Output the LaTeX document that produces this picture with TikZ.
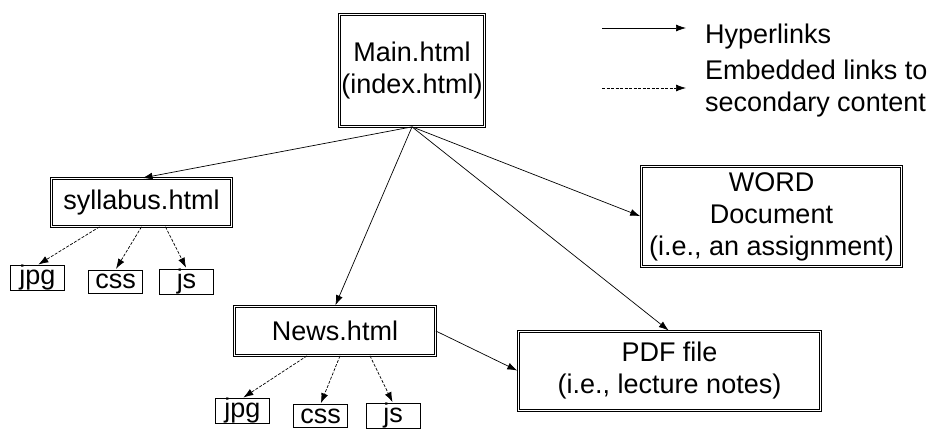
\documentclass[tikz,border=0pt]{standalone}
\usepackage{fontspec}
\setmainfont{Liberation Sans}
\usetikzlibrary{arrows.meta, calc}

\begin{document}
\begin{tikzpicture}[x=1pt, y=-1pt, font=\fontsize{27}{32}\selectfont]

    % Define the box and link styles for easy reference
    \tikzset{
      page/.style={draw, double, double distance=1.6pt, line width=0.7pt,
        align=center, inner sep=0pt},
      asset/.style={draw, line width=0.7pt, inner sep=0pt,
        minimum width=54pt, minimum height=23pt},
      link/.style={-{Latex[length=10pt, width=7pt]}, line width=0.7pt, shorten >=1pt},
      embed/.style={link, dash pattern=on 3pt off 1.5pt}
    }

    \useasboundingbox (0,0) rectangle (928,429);

    % pages
    \node[page, minimum width=145pt, minimum height=112pt] (main) at (412, 70.5) {Main.html\\(index.html)};
    \node[page, minimum width=180pt, minimum height=48pt] (syl) at (141.5, 202.5) {syllabus.html};
    \node[page, minimum width=201pt, minimum height=49pt] (news) at (335, 331) {News.html};
    \node[page, minimum width=260pt, minimum height=100pt] (word) at (771.5, 216.5) {WORD\\Document\\(i.e., an assignment)};
    \node[page, minimum width=302pt, minimum height=79pt] (pdf) at (669.5, 371) {PDF file\\(i.e., lecture notes)};

    % secondary content
    \node[asset] (syljpg) at (37.5, 278) {jpg};
    \node[asset] (sylcss) at (115.5, 281.5) {css};
    \node[asset] (syljs) at (186.5, 281.5) {js};
    \node[asset] (newsjpg) at (242.5, 411) {jpg};
    \node[asset] (newscss) at (320.5, 416) {css};
    \node[asset] (newsjs) at (393, 416) {js};

    % hyperlinks
    \draw[link] (main.south) -- (syl.north);
    \draw[link] (main.south) -- (news.north);
    \draw[link] (main.south) -- (word.west);
    \draw[link] (main.south) -- (pdf.north);
    \draw[link] (news.east) -- (pdf.west);

    % embedded links
    \draw[embed] ($(syl.south)+(-42,0)$) -- (syljpg.north);
    \draw[embed] (syl.south) -- (sylcss.north);
    \draw[embed] ($(syl.south)+(24,0)$) -- (syljs.north);
    \draw[embed] ($(news.south)+(-28,0)$) -- (newsjpg.north);
    \draw[embed] ($(news.south)+(5,0)$) -- (newscss.north);
    \draw[embed] ($(news.south)+(35,0)$) -- (newsjs.north);

    % legend
    \coordinate (hla) at (602, 28);
    \coordinate (hlb) at (686, 28);
    \coordinate (ema) at (602, 88);
    \coordinate (emb) at (686, 88);
    \draw[link, shorten >=0pt] (hla) -- (hlb);
    \draw[embed, shorten >=0pt] (ema) -- (emb);
    \node[anchor=west, inner sep=0pt] (hltext) at (705, 37) {Hyperlinks};
    \node[anchor=west, align=left, inner sep=0pt] (emtext) at (705, 88.5) {Embedded links to\\secondary content};
\end{tikzpicture}
\end{document}
